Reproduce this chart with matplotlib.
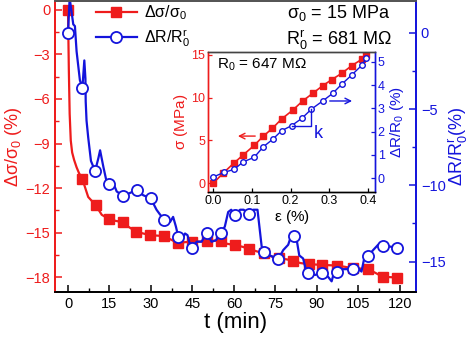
import matplotlib
matplotlib.use('Agg')
import matplotlib.pyplot as plt
from matplotlib.ticker import MultipleLocator

plt.rcParams['font.family'] = ['Liberation Sans', 'DejaVu Sans']
plt.rcParams['mathtext.fontset'] = 'custom'
plt.rcParams['mathtext.rm'] = 'Liberation Sans'
plt.rcParams['mathtext.it'] = 'Liberation Sans'
plt.rcParams['mathtext.default'] = 'rm'

RED = '#ee1c1c'
BLUE = '#1414dc'

# ---- main data: relaxation vs time ----
# stress relaxation, markers
t_sig = [0, 5.2, 10, 14.9, 19.8, 24.7, 29.7, 34.7, 39.6, 45, 50.1, 55.2, 60.4,
         65.5, 70.8, 76.1, 81.4, 87.2, 92, 97.4, 102.9, 108.3, 113.7, 119.1]
sig = [0, -11.4, -13.15, -14.1, -14.3, -14.95, -15.17, -15.23, -15.7, -15.6,
       -15.57, -15.55, -15.85, -16.1, -16.4, -16.73, -16.9, -17.13, -17.18,
       -17.23, -17.4, -17.45, -17.97, -18.03]
# stress relaxation, line
t_sig_line = [0, 0.3, 0.6, 1.0, 1.5, 2.2, 3.1, 4.0, 5.2, 7.3, 10, 12.2, 14.9,
              17, 19.8, 21.8, 24.7, 27, 29.7, 32, 34.7, 37, 39.6, 42, 45, 47.5,
              50.1, 52.5, 55.2, 57.5, 60.4, 63, 65.5, 68, 70.8, 73.5, 76.1, 79,
              81.4, 84, 87.2, 89.5, 92, 95, 97.4, 100, 102.9, 105.5, 108.3, 111,
              113.7, 116.5, 119.1]
sig_line = [0, -4, -7, -8.8, -9.6, -10.1, -10.6, -11.0, -11.4, -12.6, -13.15,
            -13.8, -14.1, -14.2, -14.3, -14.6, -14.95, -15.05, -15.17, -15.2,
            -15.23, -15.45, -15.7, -15.65, -15.6, -15.6, -15.57, -15.55, -15.55,
            -15.75, -15.85, -15.95, -16.1, -16.25, -16.4, -16.6, -16.73, -16.8,
            -16.9, -17.05, -17.13, -17.15, -17.18, -17.2, -17.23, -17.3, -17.4,
            -17.42, -17.45, -17.7, -17.97, -18.0, -18.03]

# resistance relaxation, markers
t_res = [0, 5.2, 9.8, 14.8, 20, 24.8, 29.9, 34.7, 39.9, 44.9, 50.1, 55.2, 60.4,
         65.5, 70.8, 76, 81.7, 86.9, 92, 97.1, 102.9, 108.5, 113.7, 119.1]
res = [0, -3.6, -9.06, -9.9, -10.7, -10.3, -10.85, -12.25, -13.4, -14.1, -13.1,
       -13.16, -11.95, -11.9, -14.36, -14.86, -13.3, -15.77, -15.73, -15.66,
       -15.5, -14.64, -13.97, -14.1]
# resistance relaxation, line
t_res_line = [0, 0.6, 1.9, 2.5, 3.1, 4.3, 5.2, 5.9, 6.3, 6.4, 6.7, 7.3, 8.3, 9.8,
              11.0, 11.6, 12.8, 14, 14.8, 16, 16.7, 17.6, 20, 22.4, 24.8, 27.2,
              29.9, 32, 33, 34.7, 36.9, 38, 39, 39.9, 41.1, 42.3, 43.2, 43.8,
              44.9, 46.5, 48.3, 50.1, 51.9, 53.5, 55.2, 56.7, 57.9, 59, 60.4,
              62.2, 63.5, 65.5, 67, 68.5, 70, 70.8, 73, 76, 77.8, 79.6, 80.5,
              81.7, 82.6, 83.6, 85, 86, 86.9, 89.3, 92, 94, 95.3, 96.1, 97.1,
              99.5, 102.9, 104.9, 106.1, 107.3, 108.5, 110.3, 112.1, 113.7,
              115.8, 119.1]
res_line = [0, 2.3, 0.57, 0.45, -1.2, -3.1, -3.6, -1.8, -3.0, -4.5, -5.75, -6.85,
            -8.4, -9.06, -8.2, -7.7, -8.8, -9.8, -9.9, -10.2, -10.0, -10.4,
            -10.7, -10.5, -10.3, -10.65, -10.85, -11.6, -11.85, -12.25, -12.4,
            -12.07, -12.7, -13.4, -13.6, -13.16, -13.27, -13.7, -14.1, -13.7,
            -13.7, -13.1, -13.7, -13.6, -13.16, -12.7, -11.75, -11.6, -11.95,
            -11.6, -11.6, -11.9, -11.6, -11.6, -14.0, -14.36, -14.6, -14.86,
            -14.25, -13.9, -13.4, -13.3, -13.5, -14.6, -14.8, -15.55, -15.77,
            -15.88, -15.73, -16.0, -16.3, -15.77, -15.66, -15.5, -15.5, -15.45,
            -15.66, -14.6, -14.64, -14.25, -13.9, -13.97, -14.0, -14.1]

# ---- inset data: loading curve ----
eps_sig = [0.001, 0.027, 0.053, 0.078, 0.106, 0.130, 0.153, 0.177, 0.206, 0.231,
           0.257, 0.283, 0.306, 0.332, 0.358, 0.384, 0.394]
sig_in = [0, 1.2, 2.3, 3.3, 4.4, 5.5, 6.4, 7.5, 8.55, 9.6, 10.5, 11.4, 12.1,
          12.85, 13.75, 14.5, 15.0]
eps_res = [0.001, 0.029, 0.054, 0.078, 0.106, 0.130, 0.154, 0.177, 0.203, 0.229,
           0.254, 0.283, 0.309, 0.332, 0.358, 0.384, 0.395]
res_in = [0.05, 0.25, 0.37, 0.7, 0.89, 1.35, 1.67, 2.04, 2.26, 2.57, 2.97, 3.32,
          3.65, 4.04, 4.44, 4.86, 5.16]

fig = plt.figure(figsize=(4.74, 3.37), dpi=100)
W, H = 474.0, 337.0

ax = fig.add_axes([55 / W, 1 - 292 / H, 361 / W, 291 / H])
ax2 = ax.twinx()

ax.plot(t_sig_line, sig_line, '-', color=RED, lw=1.6)
ax.plot(t_sig, sig, 's', color=RED, ms=6.5, mec=RED)
ax2.plot(t_res_line, res_line, '-', color=BLUE, lw=1.6)
ax2.plot(t_res, res, 'o', color=BLUE, ms=8, mfc='white', mec=BLUE, mew=1.3)

ax.set_xlim(-4.7, 125.8)
ax.set_ylim(-19.0, 0.6)
ax2.set_ylim(-17.0, 2.1)

ax.xaxis.set_major_locator(MultipleLocator(15))
ax.xaxis.set_minor_locator(MultipleLocator(7.5))
ax.yaxis.set_major_locator(MultipleLocator(3))
ax.yaxis.set_minor_locator(MultipleLocator(1.5))
ax2.yaxis.set_major_locator(MultipleLocator(5))
ax2.yaxis.set_minor_locator(MultipleLocator(2.5))

for a in (ax, ax2):
    a.tick_params(which='both', direction='in', labelsize=10.5)
    a.tick_params(which='major', length=5, width=1.1)
    a.tick_params(which='minor', length=3, width=1.0)
ax.tick_params(axis='y', which='both', colors=RED)
ax2.tick_params(axis='y', which='both', colors=BLUE)
ax2.spines['left'].set_color(RED)
ax2.spines['right'].set_color(BLUE)
ax.spines['left'].set_color(RED)
ax.spines['right'].set_color(BLUE)
for a in (ax, ax2):
    for s in a.spines.values():
        s.set_linewidth(1.3)
    a.spines['top'].set_color('#555555')

ax.set_xlabel('t (min)', fontsize=16, labelpad=1)
ax.set_ylabel(r'$\Delta\sigma/\sigma_0$ (%)', color=RED, fontsize=13, labelpad=1)
ax2.set_ylabel(r'$\Delta R/R_0^r$(%)', color=BLUE, fontsize=13)
ax2.yaxis.set_label_coords(1.085, 0.5)

h1 = ax.plot([], [], 's-', color=RED, ms=6.5, lw=1.6)[0]
h2 = ax.plot([], [], 'o-', color=BLUE, ms=8, mfc='white', mec=BLUE, mew=1.3, lw=1.6)[0]
ax2.legend([h1, h2], [r'$\Delta\sigma/\sigma_0$', r'$\Delta R/R_0^r$'],
           loc='upper left', bbox_to_anchor=(0.086, 1.025), frameon=False,
           fontsize=11.5, handlelength=2.6, handletextpad=0.4, labelspacing=0.35,
           borderpad=0.1)

fig.text(339 / W, 1 - 13 / H, r'$\sigma_0$ = 15 MPa', fontsize=13,
         ha='center', va='center')
fig.text(339 / W, 1 - 40 / H, r'$R_0^r$ = 681 M$\Omega$', fontsize=13,
         ha='center', va='center')

# ---- inset ----
axi = fig.add_axes([208 / W, 1 - 192 / H, 167 / W, 140 / H])
axi.set_facecolor('white')
axi2 = axi.twinx()

axi.plot(eps_sig, sig_in, 's-', color=RED, ms=3.8, lw=1.2)
axi2.plot(eps_res, res_in, 'o-', color=BLUE, ms=4, mfc='white', mec=BLUE,
          mew=1.0, lw=1.0)

axi.set_xlim(-0.013, 0.418)
axi.set_ylim(-1.05, 15.35)
axi2.set_ylim(-0.6, 5.43)
axi.yaxis.set_major_locator(MultipleLocator(5))
axi2.yaxis.set_major_locator(MultipleLocator(1))
axi.set_xticks([0.0, 0.1, 0.2, 0.3, 0.4])
axi.set_xticklabels(['0.0', '0.1', '0.2', '0.3', '0.4'])

for a in (axi, axi2):
    a.tick_params(which='both', direction='in', labelsize=9, length=3,
                  width=0.9, pad=2)
    for s in a.spines.values():
        s.set_linewidth(1.0)
    a.spines['left'].set_color(RED)
    a.spines['right'].set_color(BLUE)
    a.spines['top'].set_color('#444444')
axi.tick_params(axis='y', colors=RED)
axi2.tick_params(axis='y', colors=BLUE)

axi.set_xlabel(r'$\varepsilon$ (%)', fontsize=11, labelpad=1)
axi.set_ylabel(r'$\sigma$ (MPa)', color=RED, fontsize=11, labelpad=1)
axi2.set_ylabel(r'$\Delta R/R_0$ (%)', color=BLUE, fontsize=11, labelpad=2)

axi.text(0.01, 13.9, r'$R_0$ = 647 M$\Omega$', fontsize=11, ha='left', va='center')

# arrows pointing to the axis of each curve
axi.annotate('', xy=(0.057, 5.5), xytext=(0.116, 5.5),
             arrowprops=dict(arrowstyle='->', color=RED, lw=1.0))
axi2.annotate('', xy=(0.366, 3.32), xytext=(0.294, 3.32),
              arrowprops=dict(arrowstyle='->', color=BLUE, lw=1.0))

# slope marker
axi2.plot([eps_res[8], eps_res[10], eps_res[10]],
          [res_in[8], res_in[8], res_in[10]], '-', color=BLUE, lw=1.0)
axi2.text(0.271, 1.94, 'k', color=BLUE, fontsize=13, ha='center', va='center')

fig.savefig('out.png', dpi=100)
